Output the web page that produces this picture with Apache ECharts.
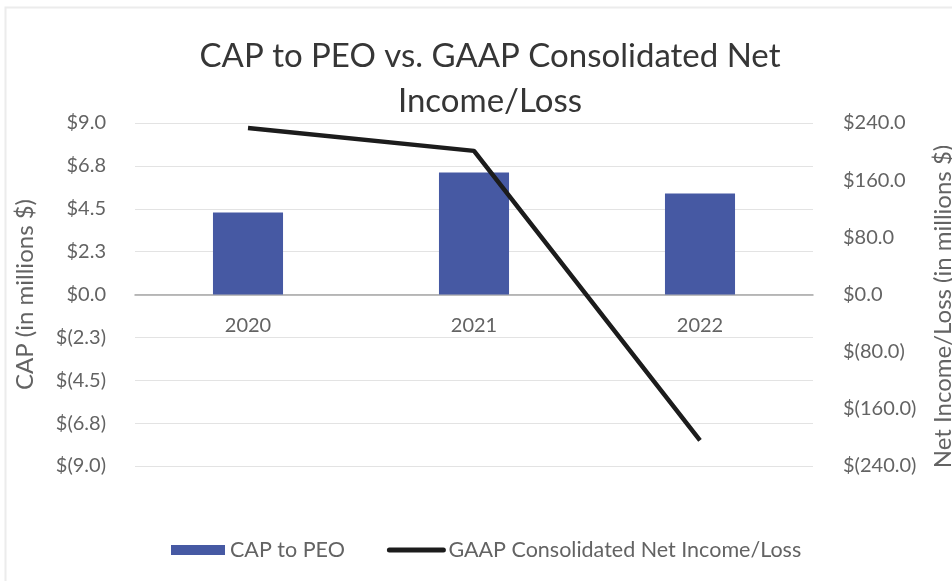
<!DOCTYPE html>
<html>
<head>
<meta charset="utf-8">
<script src="https://cdn.jsdelivr.net/npm/echarts@6/dist/echarts.min.js"></script>
<style>
  html, body { margin: 0; padding: 0; background: #fff; }
  #chart { width: 952px; height: 581px; }
</style>
</head>
<body>
<div id="chart"></div>
<script>
const years = ['2020', '2021', '2022'];
const capToPeo = [4.3, 6.4, 5.3];          // left axis, $ millions
const netIncome = [233, 201, -204];        // right axis, $ millions

const fontFamily = 'Lato, "Noto Sans", sans-serif';
const textGray = '#636363';

const money = (v, digits) => {
    const s = Math.abs(v).toFixed(digits);
    return v < 0 ? `$(${s})` : `$${s}`;
};

const myChart = echarts.init(document.getElementById('chart'));
myChart.setOption({
    animation: false,
    textStyle: { fontFamily },
    title: {
        text: 'CAP to PEO vs. GAAP Consolidated Net\nIncome/Loss',
        left: 485,
        textAlign: 'center',
        top: 29,
        textStyle: {
            fontFamily,
            fontSize: 33,
            fontWeight: 'normal',
            color: '#363636',
            lineHeight: 45,
        },
    },
    graphic: [{
        type: 'rect',
        shape: { x: 5.5, y: 7.5, width: 960, height: 590 },
        style: { fill: 'none', stroke: '#ececec', lineWidth: 2 },
        silent: true,
    }],
    legend: {
        left: 166,
        top: 534,
        itemWidth: 54,
        itemHeight: 10,
        itemGap: 42,
        textStyle: { fontFamily, fontSize: 21.5, color: textGray },
        data: [
            { name: 'CAP to PEO', icon: 'rect' },
            {
                name: 'GAAP Consolidated Net Income/Loss',
                itemStyle: { opacity: 0 },
                lineStyle: { width: 5, cap: 'round', color: '#1c1c1c' },
            },
        ],
    },
    grid: {
        left: 135,
        right: 139,
        top: 123,
        bottom: 115,
        outerBoundsMode: 'none',
    },
    xAxis: {
        type: 'category',
        data: years,
        axisTick: { show: false },
        axisLine: { onZero: true, lineStyle: { color: '#a6a6a6', width: 1.5 } },
        axisLabel: { fontSize: 20, color: textGray, margin: -150, fontFamily },
    },
    yAxis: [
        {
            type: 'value',
            min: -9,
            max: 9,
            interval: 2.25,
            name: 'CAP (in millions $)',
            nameLocation: 'middle',
            nameRotate: 90,
            nameGap: 98,
            nameTextStyle: { fontSize: 24, color: textGray, fontFamily },
            axisLine: { show: false },
            axisTick: { show: false },
            axisLabel: { fontSize: 20, color: textGray, margin: 29, formatter: v => money(v, 1) },
            splitLine: { lineStyle: { color: '#e3e3e3', width: 1.2 } },
        },
        {
            type: 'value',
            min: -240,
            max: 240,
            interval: 80,
            position: 'right',
            name: 'Net Income/Loss (in millions $)',
            nameLocation: 'middle',
            nameRotate: 90,
            nameGap: 118,
            nameTextStyle: { fontSize: 24, color: textGray, fontFamily, padding: [0, 24, 0, 0] },
            axisLine: { show: false },
            axisTick: { show: false },
            axisLabel: { fontSize: 20, color: textGray, margin: 30, formatter: v => money(v, 1) },
            splitLine: { show: false },
        },
    ],
    series: [
        {
            name: 'CAP to PEO',
            type: 'bar',
            yAxisIndex: 0,
            data: capToPeo,
            barWidth: '31%',
            itemStyle: { color: '#4659a3' },
        },
        {
            name: 'GAAP Consolidated Net Income/Loss',
            type: 'line',
            yAxisIndex: 1,
            data: netIncome,
            symbol: 'none',
            lineStyle: { color: '#1c1c1c', width: 4.5 },
            itemStyle: { color: '#1c1c1c' },
            z: 3,
        },
    ],
});
</script>
</body>
</html>
